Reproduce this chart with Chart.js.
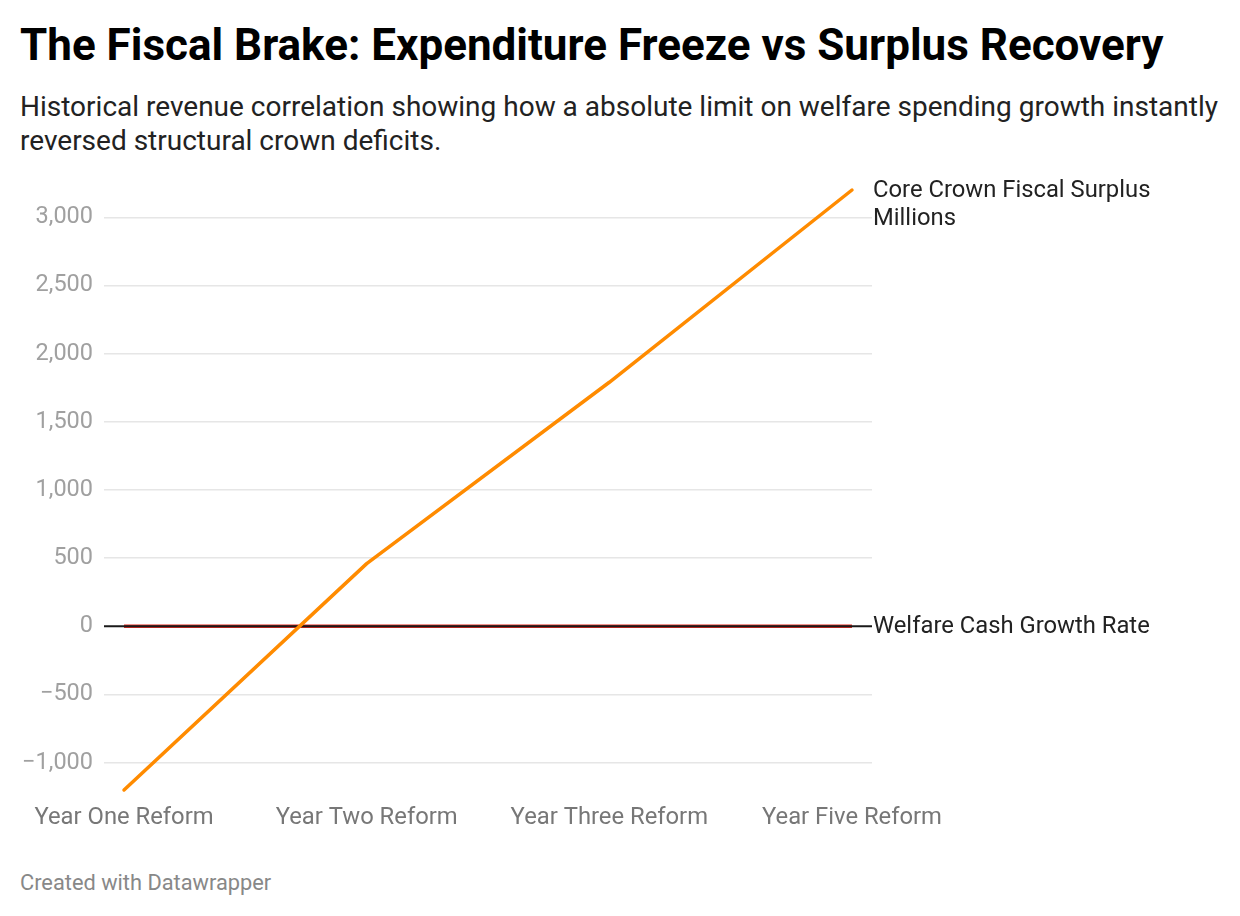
<!DOCTYPE html>
<html>
<head>
<meta charset="utf-8">
<script src="https://cdn.jsdelivr.net/npm/chart.js@4.4.1/dist/chart.umd.min.js"></script>
<style>
  html, body { margin: 0; padding: 0; background: #fff; width: 1240px; height: 916px; overflow: hidden; font-family: Roboto, "Noto Sans", sans-serif; }
  #title { position: absolute; left: 20px; top: 18px; font-size: 44px; font-weight: 700; color: #000; margin: 0; line-height: 54px; white-space: nowrap; }
  #subtitle { position: absolute; left: 20px; top: 90px; width: 1215px; font-size: 28px; color: #222; line-height: 34px; margin: 0; }
  #wrap { position: absolute; left: 0; top: 160px; width: 1240px; height: 700px; }
  #footer { position: absolute; left: 20px; top: 870px; font-size: 21.8px; color: #888; line-height: 26px; }
</style>
</head>
<body>
<h1 id="title">The Fiscal Brake: Expenditure Freeze vs Surplus Recovery</h1>
<p id="subtitle">Historical revenue correlation showing how a absolute limit on welfare spending growth instantly reversed structural crown deficits.</p>
<div id="wrap"><canvas id="c"></canvas></div>
<div id="footer">Created with Datawrapper</div>
<script>
const categories = ["Year One Reform", "Year Two Reform", "Year Three Reform", "Year Five Reform"];
const surplusMillions = [-1200, 460, 1790, 3200];
const welfareGrowthRate = [0, 0, 0, 0];
const seriesNames = ["Core Crown Fiscal Surplus Millions", "Welfare Cash Growth Rate"];
const seriesLabelLines = [["Core Crown Fiscal Surplus", "Millions"], ["Welfare Cash Growth Rate"]];
const yTicks = [-1000, -500, 0, 500, 1000, 1500, 2000, 2500, 3000];

function fmt(v) {
  const s = Math.abs(v).toLocaleString('en-US');
  return (v < 0 ? '\u2212' : '') + s;
}

const zeroLinePlugin = {
  id: 'zeroLine',
  afterDatasetDraw(chart, args) {
    if (args.index !== 1) return;
    const ctx = chart.ctx, y = chart.scales.y.getPixelForValue(0);
    ctx.save();
    ctx.strokeStyle = '#1a1a1a';
    ctx.lineWidth = 2;
    ctx.beginPath();
    ctx.moveTo(chart.chartArea.left, y);
    ctx.lineTo(chart.chartArea.right, y);
    ctx.stroke();
    ctx.restore();
  }
};

const labelPlugin = {
  id: 'lineLabels',
  afterDraw(chart) {
    const ctx = chart.ctx;
    ctx.save();
    ctx.font = '23.8px Roboto';
    ctx.fillStyle = '#222';
    ctx.textBaseline = 'middle';
    ctx.textAlign = 'left';
    chart.data.datasets.forEach((ds, i) => {
      const meta = chart.getDatasetMeta(i);
      const last = meta.data[meta.data.length - 1];
      const x = chart.chartArea.right + 1;
      const lines = seriesLabelLines[i];
      lines.forEach((t, k) => ctx.fillText(t, x, last.y + 1 + k * 28));
    });
    ctx.restore();
  }
};

new Chart(document.getElementById('c'), {
  type: 'line',
  data: {
    datasets: [
      {
        label: seriesNames[0],
        data: surplusMillions.map((v, i) => ({ x: i, y: v })),
        borderColor: '#ff8b00',
        borderWidth: 3.5,
        pointRadius: 0,
        tension: 0,
        borderCapStyle: 'round',
        borderJoinStyle: 'round',
        clip: false
      },
      {
        label: seriesNames[1],
        data: welfareGrowthRate.map((v, i) => ({ x: i, y: v })),
        borderColor: '#e0281f',
        borderWidth: 3.5,
        pointRadius: 0,
        clip: false
      }
    ]
  },
  options: {
    responsive: true,
    maintainAspectRatio: false,
    animation: false,
    layout: { padding: { top: 30, right: 368, bottom: 20, left: 0 } },
    plugins: { legend: { display: false }, tooltip: { enabled: false } },
    scales: {
      x: {
        type: 'linear',
        min: -0.0825,
        max: 3.0825,
        afterBuildTicks(scale) { scale.ticks = categories.map((c, i) => ({ value: i })); },
        afterFit(scale) { scale.height = 50; },
        ticks: {
          callback: (v) => categories[v],
          color: '#777',
          font: { family: 'Roboto', size: 23.8 },
          padding: 6,
          maxRotation: 0,
          autoSkip: false
        },
        grid: { display: false },
        border: { display: false }
      },
      y: {
        min: -1200,
        max: 3200,
        afterBuildTicks(scale) { scale.ticks = yTicks.map(v => ({ value: v })); },
        afterFit(scale) { scale.width = 104; },
        ticks: {
          callback: (v) => fmt(v),
          color: '#a0a0a0',
          font: { family: 'Roboto', size: 23.5 },
          padding: 11
        },
        grid: {
          color: (c) => c.tick && c.tick.value === 0 ? 'rgba(0,0,0,0)' : '#e6e6e6',
          lineWidth: 1.5,
          drawTicks: false
        },
        border: { display: false }
      }
    }
  },
  plugins: [zeroLinePlugin, labelPlugin]
});
</script>
</body>
</html>
